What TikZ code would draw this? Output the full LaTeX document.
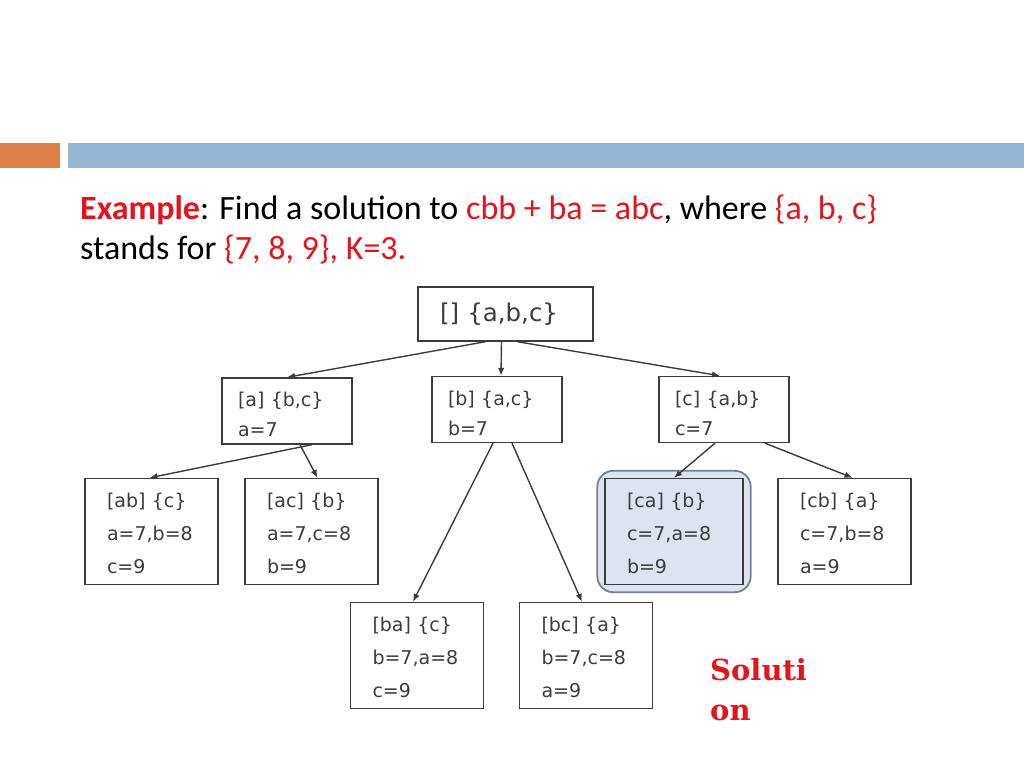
\documentclass[tikz,border=0pt]{standalone}
\usepackage{fontspec}
\setmainfont{Carlito}
\newfontfamily\boxfont{DejaVu Sans}
\newfontfamily\solfont{DejaVu Serif}
\usetikzlibrary{calc,fit,backgrounds,arrows.meta}
\definecolor{barorange}{RGB}{221,128,71}
\definecolor{barblue}{RGB}{148,182,210}
\definecolor{exred}{RGB}{226,20,28}
\definecolor{boxgray}{RGB}{60,60,60}
\definecolor{pickfill}{RGB}{220,228,240}
\definecolor{pickline}{RGB}{115,130,145}

\tikzset{
  tbox/.style={draw=boxgray, line width=1.4pt, text=boxgray, align=left, inner ysep=0pt},
  rootbox/.style={tbox, font=\boxfont\fontsize{24.5}{30}\selectfont, text width=131pt, inner xsep=22pt, minimum height=54pt},
  midbox/.style={tbox, font=\boxfont\fontsize{19}{30}\selectfont, text width=98pt, inner xsep=16pt, minimum height=66pt,
    execute at begin node={\rule{0pt}{22pt}}},
  leafbox/.style={tbox, font=\boxfont\fontsize{19}{33}\selectfont, text width=89pt, inner xsep=22pt, minimum height=106pt,
    execute at begin node={\rule{0pt}{18.5pt}}},
  pick/.style={draw=pickline, line width=1.8pt, fill=pickfill, rounded corners=16pt, inner sep=7pt},
  title/.style={anchor=base west, inner sep=0, font=\fontsize{34}{40}\selectfont},
  sol/.style={anchor=base west, inner sep=0, text=exred, font=\solfont\bfseries\fontsize{29}{34}\selectfont}
}

\begin{document}
\begin{tikzpicture}[x=1pt,y=-1pt,>={Latex[length=8pt,width=6.5pt]},every edge/.style={draw=boxgray, line width=1.4pt}]
  \useasboundingbox (0,0) rectangle (1024,768);
  % title bar
  \fill[barorange] (0,143) rectangle (60,168);
  \fill[barblue] (68,143) rectangle (1024,168);

  \node[title] (line1) at (80,219)
    {\textcolor{exred}{\textbf{Example}}: Find a solution to \textcolor{exred}{cbb + ba = abc}, where \textcolor{exred}{\{a, b, c\}}};
  \node[title] (line2) at (80,259)
    {stands for \textcolor{exred}{\{7, 8, 9\}, K=3.}};

  % search tree
  \node[rootbox] (root) at (505.5,314) {[] \{a,b,c\}};
  \node[midbox]  (a)  at (287,411)   {[a] \{b,c\}\\a=7};
  \node[midbox]  (b)  at (497,409.5) {[b] \{a,c\}\\b=7};
  \node[midbox]  (c)  at (724,409.5) {[c] \{a,b\}\\c=7};
  \node[leafbox] (ab) at (151.5,531.5) {[ab] \{c\}\\a=7,b=8\\c=9};
  \node[leafbox] (ac) at (311.5,531.5) {[ac] \{b\}\\a=7,c=8\\b=9};
  \node[leafbox, text width=94pt, fill=pickfill] (ca) at (674,531.5) {[ca] \{b\}\\c=7,a=8\\b=9};
  \node[leafbox] (cb) at (844.5,531.5) {[cb] \{a\}\\c=7,b=8\\a=9};
  \node[leafbox] (ba) at (417,655.5) {[ba] \{c\}\\b=7,a=8\\c=9};
  \node[leafbox] (bc) at (586,655.5) {[bc] \{a\}\\b=7,c=8\\a=9};
  \begin{scope}[on background layer]
    \node[pick, fit=(ca)] (found) {};
  \end{scope}

  \path[->] ($(root.south)+(-20,0)$) edge (a.north)
            ($(root.south)+(-4,0)$)  edge ($(b.north)+(4,0)$)
            ($(root.south)+(12,0)$)  edge ($(c.north)+(-4,0)$)
            ($(a.south)+(25,0)$) edge ($(ab.north)+(-2,0)$)
            ($(a.south)+(13,0)$) edge ($(ac.north)+(6,0)$)
            ($(b.south)+(-4,0)$) edge ($(ba.north)+(-4,0)$)
            ($(b.south)+(15,0)$) edge ($(bc.north)+(-4,0)$)
            ($(c.south)+(-9,0)$) edge (ca.north)
            ($(c.south)+(41,0)$) edge ($(cb.north)+(8,0)$);

  \node[sol] (sol1) at (710,680) {Soluti};
  \node[sol] (sol2) at (710,720) {on};
\end{tikzpicture}
\end{document}
